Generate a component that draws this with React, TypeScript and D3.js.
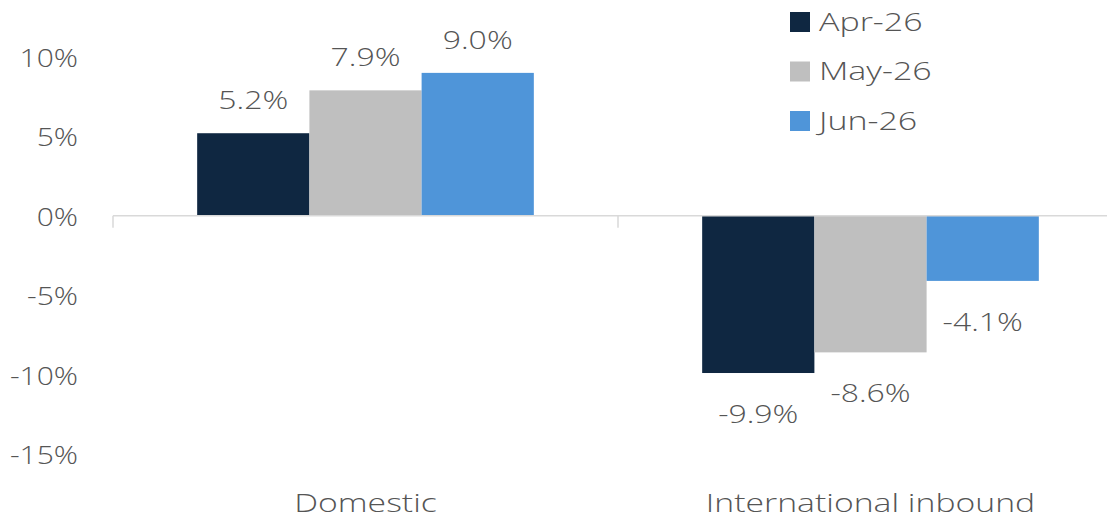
import React from "react";
import * as d3 from "d3";

const categories = ["Domestic", "International inbound"];
const seriesNames = ["Apr-26", "May-26", "Jun-26"];
const apr = [5.2, -9.9];
const may = [7.9, -8.6];
const jun = [9.0, -4.1];
const yTicks = [10, 5, 0, -5, -10, -15];
const colors = ["#0f2741", "#bfbfbf", "#4f95d9"];

const W = 1107;
const H = 519;
const FONT = "'Open Sans', Lato, sans-serif";
const TXT = "#555555";

function T({
  x,
  y,
  sx = 1.2,
  anchor = "middle",
  children,
}: {
  x: number;
  y: number;
  sx?: number;
  anchor?: "start" | "middle" | "end";
  children: React.ReactNode;
}) {
  return (
    <text
      transform={`translate(${x},${y}) scale(${sx},1)`}
      textAnchor={anchor}
      dominantBaseline="central"
      fontSize={25}
      fontWeight={300}
      fill={TXT}
    >
      {children}
    </text>
  );
}

export default function App() {
  const series = [apr, may, jun];
  const y = d3.scaleLinear().domain([-15, 10]).range([454, 57]);
  const x0 = d3.scaleBand().domain(categories).range([113, 1123]).paddingInner(0).paddingOuter(0);
  const x1 = d3
    .scaleBand()
    .domain(seriesNames)
    .range([0, x0.bandwidth()])
    .paddingOuter(0.75)
    .paddingInner(0);
  const zero = y(0);

  return (
    <svg
      width={W}
      height={H}
      style={{ position: "absolute", left: 0, top: 0, background: "#fff" }}
      fontFamily={FONT}
    >
      {/* y tick labels */}
      {yTicks.map((t) => (
        <T key={t} x={78} y={y(t)} anchor="end" sx={1.2}>
          {`${t}%`}
        </T>
      ))}
      {/* bars */}
      {categories.map((c, ci) =>
        series.map((s, si) => {
          const v = s[ci];
          const xx = (x0(c) as number) + (x1(seriesNames[si]) as number);
          const top = Math.min(y(v), zero);
          const h = Math.abs(y(v) - zero);
          const labelY = v >= 0 ? y(v) - 34 : y(v) + 40;
          return (
            <g key={`${ci}-${si}`}>
              <rect x={xx} y={top} width={x1.bandwidth()} height={h} fill={colors[si]} />
              <T x={xx + x1.bandwidth() / 2} y={labelY} sx={1.28}>
                {`${v.toFixed(1)}%`}
              </T>
            </g>
          );
        })
      )}
      {/* axis line */}
      <line x1={113} x2={W} y1={zero} y2={zero} stroke="#d9d9d9" strokeWidth={1.5} />
      {[113, 618, 1123].map((tx) => (
        <line key={tx} x1={tx} x2={tx} y1={zero} y2={zero + 12} stroke="#d9d9d9" strokeWidth={1.5} />
      ))}
      {/* category labels */}
      {categories.map((c) => (
        <T key={c} x={(x0(c) as number) + x0.bandwidth() / 2} y={502} sx={1.35}>
          {c}
        </T>
      ))}
      {/* legend */}
      {seriesNames.map((n, i) => (
        <g key={n}>
          <rect x={790} y={12 + i * 49.5} width={20} height={20} fill={colors[i]} />
          <T x={819} y={21 + i * 49.5} anchor="start" sx={1.36}>
            {n}
          </T>
        </g>
      ))}
    </svg>
  );
}
